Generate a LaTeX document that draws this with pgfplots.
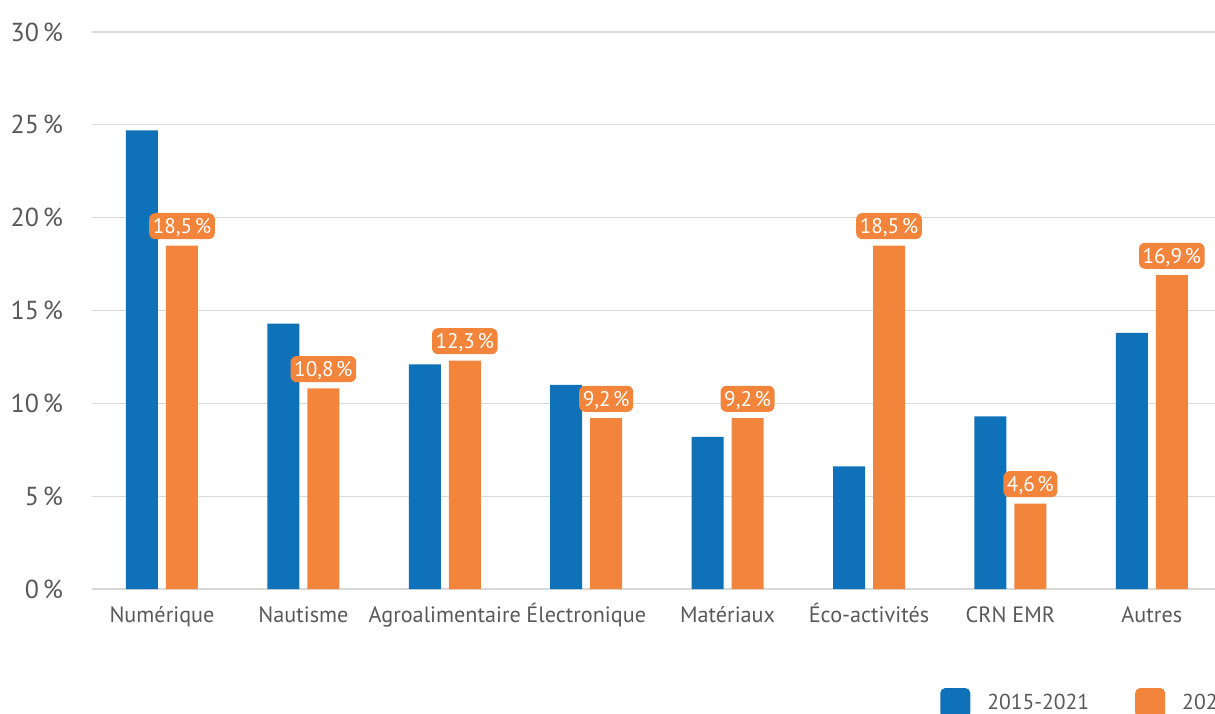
\documentclass[border=0pt]{standalone}
\usepackage{pgfplots}
\pgfplotsset{compat=1.18}
\usepackage{fontspec}
\setmainfont{PT Sans}
\definecolor{cblue}{HTML}{0F71B8}
\definecolor{corange}{HTML}{F2843C}
\definecolor{cgrid}{HTML}{D9D9D9}
\definecolor{ctext}{HTML}{595959}
\begin{document}
\begin{tikzpicture}
\useasboundingbox (-46pt,-62pt) rectangle (561.5pt,294.5pt);
\begin{axis}[
  at={(0,0)}, anchor=south west,
  scale only axis, width=565.25pt, height=278.5pt,
  /pgf/number format/assume math mode=true,
  ybar=4pt, bar width=16pt,
  xmin=-0.495, xmax=7.5, ymin=0, ymax=30,
  xtick={0,...,7},
  xticklabels={Numérique,Nautisme,Agroalimentaire,Électronique,Matériaux,Éco-activités,CRN EMR,Autres},
  ytick={0,5,...,30},
  yticklabel={\pgfmathprintnumber{\tick}\hspace{0.15em}\%},
  ymajorgrids, grid style={cgrid, line width=0.6pt},
  axis lines*=left, axis line style={-},
  y axis line style={draw=none},
  x axis line style={cgrid, line width=0.8pt},
  major tick length=0pt,
  xticklabel style={font=\fontsize{11.1}{13}\selectfont, text=ctext, anchor=base, yshift=-16.5pt},
  yticklabel style={font=\fontsize{13}{15}\selectfont, text=ctext, xshift=-11pt},
  legend style={at={(0.750,-0.2047)}, anchor=west, draw=none, fill=none, inner sep=0pt,
    font=\fontsize{10.8}{13}\selectfont, text=ctext,
    nodes={inner sep=0pt},
    /tikz/every odd column/.append style={column sep=8.5pt},
    /tikz/every even column/.append style={column sep=23pt}},
  legend columns=-1,
  legend image code/.code={\fill[#1, rounded corners=2.5pt] (0pt,-7.5pt) rectangle (15pt,7.5pt);},
]
\addplot[fill=cblue, draw=none] coordinates {
  (0,24.7) (1,14.3) (2,12.1) (3,11.0) (4,8.2) (5,6.6) (6,9.3) (7,13.8)};
\addplot[fill=corange, draw=none,
  nodes near coords={\pgfmathprintnumber[fixed,fixed zerofill,precision=1,use comma]{\pgfplotspointmeta}\hspace{0.12em}\%},
  every node near coord/.append style={fill=corange, text=white, rounded corners=3pt,
    font=\fontsize{10.6}{13}\selectfont, inner xsep=1.8pt, inner ysep=2.7pt,
    text height=7.6pt, text depth=0pt, anchor=south, yshift=3pt}
  ] coordinates {
  (0,18.5) (1,10.8) (2,12.3) (3,9.2) (4,9.2) (5,18.5) (6,4.6) (7,16.9)};
\legend{2015-2021,2022}
\end{axis}
\end{tikzpicture}
\end{document}
